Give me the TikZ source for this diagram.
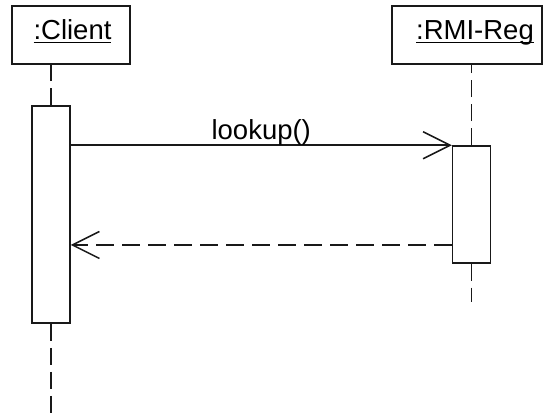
\documentclass[tikz,border=0pt]{standalone}
\usepackage{fontspec}
\setmainfont{Liberation Sans}
\usetikzlibrary{arrows.meta}
% object name with a thick underline
\newcommand\objname[1]{\setbox0=\hbox{#1}\leavevmode\rlap{\rule[-4pt]{\wd0}{1.5pt}}\box0}
\begin{document}
\begin{tikzpicture}[x=1pt,y=-1pt,
  line join=miter,
  headbox/.style={draw=black!90, line width=1.5pt, minimum height=58pt, inner sep=0pt},
  actbox/.style={draw=black!90, fill=white, line width=1.5pt, minimum width=38pt, inner sep=0pt},
  lifeline/.style={draw=black!90, line width=1.5pt, dash pattern=on 17pt off 7pt},
  msg/.style={draw=black!90, line width=1.5pt, -{Straight Barb[length=27pt,width=27pt]}},
  reply/.style={msg, dash pattern=on 18pt off 8pt},
  lbl/.style={font=\fontsize{27.5}{30}\selectfont, inner sep=0pt, anchor=base}]
  \useasboundingbox (0,0) rectangle (543,419);
  \fill[white] (0,0) rectangle (543,419);

  % object heads
  \node[headbox, minimum width=118pt] (client) at (71,35) {};
  \node[headbox, minimum width=150pt] (reg) at (467,35) {};
  \node[lbl] (clientname) at (72.5,39.5) {\objname{:Client}};
  \node[lbl] (regname) at (475,39.5) {\objname{:RMI-Reg}};

  % activation bars
  \node[actbox, minimum height=217pt] (clientact) at (51,214.5) {};
  \node[actbox, minimum height=117pt] (regact) at (471.5,204.5) {};

  % lifelines
  \draw[lifeline] (clientact.north) -- (clientact.north |- client.south);
  \coordinate (clientend) at (51,418);
  \draw[lifeline] (clientact.south) -- (clientend);
  \draw[lifeline] (regact.north) -- (regact.north |- reg.south);
  \coordinate (regend) at (471.5,302);
  \draw[lifeline] (regact.south) -- (regend);

  % messages
  \draw[msg] (clientact.east |- regact.north west) -- (regact.north west)
    node[lbl, pos=0.5, above=6pt, anchor=base] (call) {lookup()};
  \coordinate (retfrom) at (regact.west |- 0,245);
  \draw[reply] (retfrom) -- (clientact.east |- retfrom);
\end{tikzpicture}
\end{document}
